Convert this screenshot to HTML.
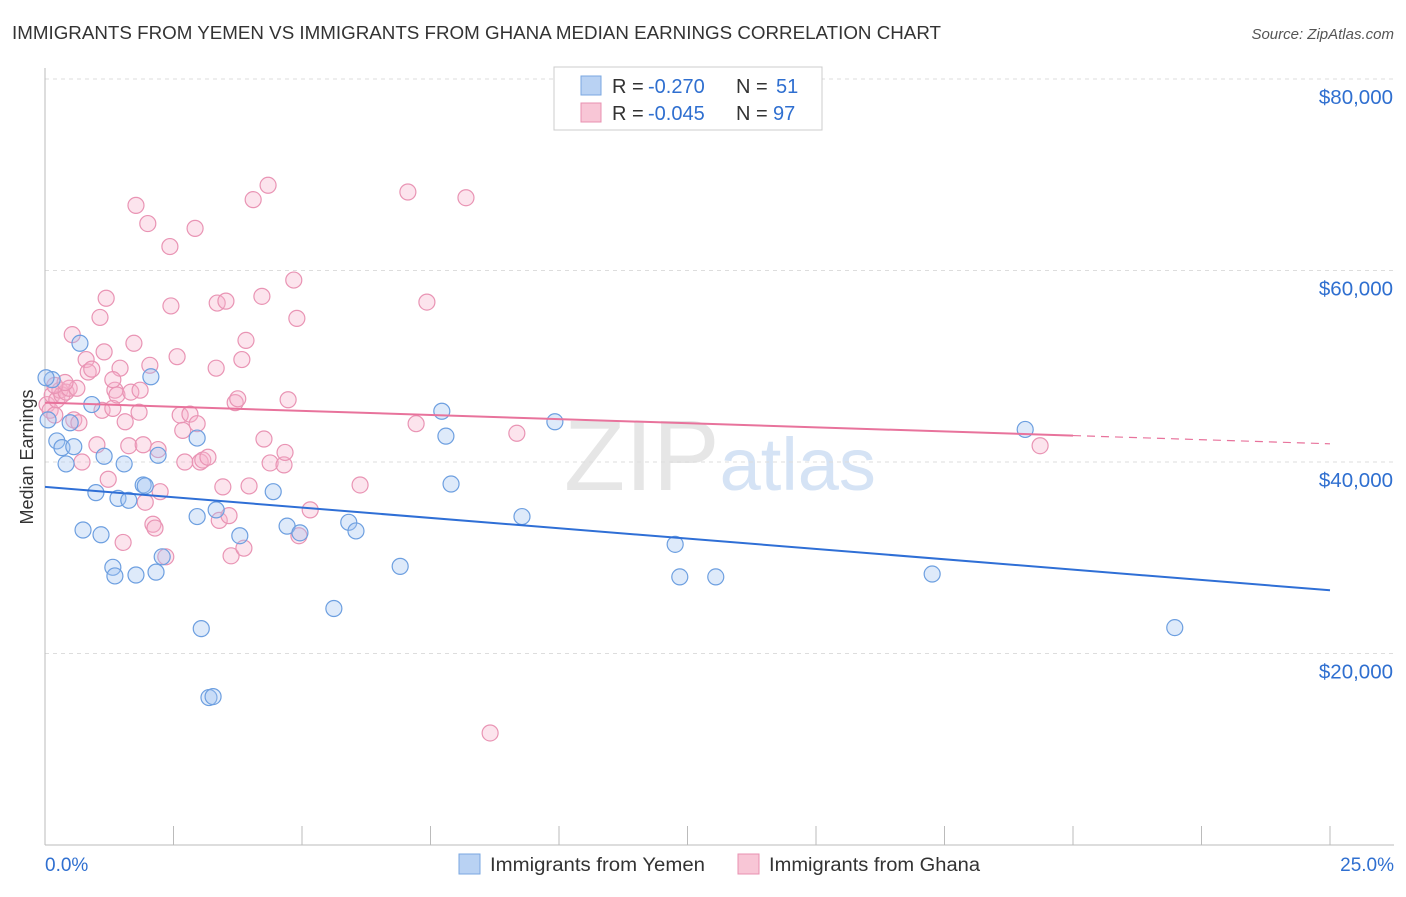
<!DOCTYPE html>
<html><head><meta charset="utf-8">
<style>
body{margin:0;background:#fff;font-family:"Liberation Sans",sans-serif;}
svg text{font-family:"Liberation Sans",sans-serif;}
</style></head>
<body>
<svg id="chart" width="1406" height="892" viewBox="0 0 1406 892" xmlns="http://www.w3.org/2000/svg">
<text x="12" y="39" font-size="18" fill="#333" textLength="929" lengthAdjust="spacingAndGlyphs">IMMIGRANTS FROM YEMEN VS IMMIGRANTS FROM GHANA MEDIAN EARNINGS CORRELATION CHART</text>
<text x="1394" y="39" font-size="15" fill="#555" text-anchor="end" font-style="italic">Source: ZipAtlas.com</text>
<text x="720" y="490" font-size="100" fill="#e6e6e6" text-anchor="middle" font-family="Liberation Serif">ZIP<tspan fill="#d5e3f5" font-family="Liberation Sans" font-size="74">atlas</tspan></text>
<text x="33" y="457" font-size="18" fill="#333" text-anchor="middle" transform="rotate(-90 33 457)">Median Earnings</text>
<g id="grid"></g>
<g id="axes"></g>
<g id="marks"></g>
<g>
<rect x="554" y="67" width="268" height="63" fill="#fff" stroke="#ccc"/>
<rect x="581" y="76" width="20" height="19" fill="#b9d2f3" stroke="#7aa7e0"/>
<text x="612" y="93" font-size="20" fill="#333">R =</text>
<text x="648" y="93" font-size="20" fill="#2f6fd0">-0.270</text>
<text x="736" y="93" font-size="20" fill="#333">N =</text>
<text x="776" y="93" font-size="20" fill="#2f6fd0">51</text>
<rect x="581" y="103" width="20" height="19" fill="#f8c6d6" stroke="#e890b0"/>
<text x="612" y="120" font-size="20" fill="#333">R =</text>
<text x="648" y="120" font-size="20" fill="#2f6fd0">-0.045</text>
<text x="736" y="120" font-size="20" fill="#333">N =</text>
<text x="773" y="120" font-size="20" fill="#2f6fd0">97</text>
</g>
<g>
<rect x="459" y="854" width="21" height="20" fill="#b9d2f3" stroke="#7aa7e0"/>
<text x="490" y="871" font-size="19" fill="#333" textLength="215" lengthAdjust="spacingAndGlyphs">Immigrants from Yemen</text>
<rect x="738" y="854" width="21" height="20" fill="#f8c6d6" stroke="#e890b0"/>
<text x="769" y="871" font-size="19" fill="#333" textLength="211" lengthAdjust="spacingAndGlyphs">Immigrants from Ghana</text>
</g>
</svg>
<script>
const yTicks=[20000,40000,60000,80000];
const yTickLabels=["$20,000","$40,000","$60,000","$80,000"];
const xTicks=[0,2.5,5,7.5,10,12.5,15,17.5,20,22.5,25];
const xEndLabels=["0.0%","25.0%"];
const yemenX=[0.14,0.23,0.33,0.41,0.49,0.56,0.68,0.74,0.91,0.99,1.09,1.15,1.32,1.36,1.42,1.54,1.63,1.77,1.91,1.95,2.06,2.16,2.20,2.28,2.96,2.96,3.04,3.19,3.27,3.33,3.79,4.44,4.71,4.96,5.62,5.91,6.05,6.91,7.72,7.80,7.90,9.28,9.92,12.26,12.35,13.05,17.26,19.07,21.98,0.02,0.06];
const yemenY=[48.6,42.2,41.5,39.8,44.1,41.6,52.4,32.9,46.0,36.8,32.4,40.6,29.0,28.1,36.2,39.8,36.0,28.2,37.6,37.5,48.9,28.5,40.7,30.1,34.3,42.5,22.6,15.4,15.5,35.0,32.3,36.9,33.3,32.6,24.7,33.7,32.8,29.1,45.3,42.7,37.7,34.3,44.2,31.4,28.0,28.0,28.3,43.4,22.7,48.8,44.4];
const ghanaX=[0.04,0.10,0.14,0.19,0.23,0.29,0.33,0.41,0.47,0.53,0.56,0.62,0.66,0.72,0.80,0.84,0.91,1.01,1.07,1.11,1.15,1.19,1.23,1.32,1.36,1.40,1.46,1.52,1.56,1.63,1.67,1.73,1.77,1.83,1.91,1.95,2.00,2.04,2.10,2.14,2.20,2.24,2.35,2.43,2.45,2.57,2.63,2.68,2.72,2.82,2.92,2.96,3.02,3.07,3.17,3.33,3.35,3.39,3.46,3.52,3.58,3.62,3.70,3.75,3.83,3.87,3.91,3.97,4.05,4.22,4.26,4.34,4.38,4.65,4.67,4.73,4.84,4.90,4.94,5.16,6.13,7.06,7.22,7.43,8.19,8.66,9.18,19.36,0.19,0.39,1.85,1.32];
const ghanaY=[46.0,45.4,47.0,44.9,46.5,47.5,47.0,47.3,47.7,53.3,44.4,47.7,44.1,40.0,50.7,49.4,49.7,41.8,55.1,45.4,51.5,57.1,38.2,45.6,47.5,47.0,49.8,31.6,44.2,41.7,47.3,52.4,66.8,45.2,41.8,35.8,64.9,50.1,33.5,33.1,41.3,36.9,30.1,62.5,56.3,51.0,44.9,43.3,40.0,45.0,64.4,44.0,40.0,40.2,40.5,49.8,56.6,33.9,37.4,56.8,34.4,30.2,46.2,46.6,50.7,31.0,52.7,37.5,67.4,57.3,42.4,68.9,39.9,39.7,41.0,46.5,59.0,55.0,32.3,35.0,37.6,68.2,44.0,56.7,67.6,11.7,43.0,41.7,48.0,48.3,47.5,48.6];
const yemenTrend=[37.4,26.6];
const ghanaTrend=[46.2,41.9];
const ghanaSolidEnd=20;

const X0=45,X1=1330,Y0=845,YPER=191.5/20000;
const xs=v=>X0+(v/25)*(X1-X0);
const ys=v=>Y0-v*YPER;
const NS="http://www.w3.org/2000/svg";
function mk(tag,attrs,parent){const e=document.createElementNS(NS,tag);for(const k in attrs)e.setAttribute(k,attrs[k]);parent.appendChild(e);return e;}
const grid=document.getElementById('grid'),axes=document.getElementById('axes'),marks=document.getElementById('marks');
yTicks.forEach((t,i)=>{
 const g=mk('line',{x1:X0,x2:1394,y1:ys(t),y2:ys(t),stroke:'#ddd','stroke-dasharray':'4,4'},grid);
 
 
 const l=mk('text',{x:1393,y:ys(t)+25,'font-size':20.5,fill:'#2f6fd0','text-anchor':'end'},axes);
 l.textContent=yTickLabels[i];
 
 
});
const tg=mk('line',{x1:X0,x2:1394,y1:79,y2:79,stroke:'#ddd','stroke-dasharray':'4,4'},grid);


const ya=mk('line',{x1:X0,x2:X0,y1:68,y2:Y0,stroke:'#bbb'},axes);


const xa=mk('line',{x1:X0,x2:1394,y1:Y0,y2:Y0,stroke:'#bbb'},axes);


xTicks.forEach(t=>{
 const k=mk('line',{x1:xs(t),x2:xs(t),y1:826,y2:Y0,stroke:'#bbb'},axes);
 
 
});
const xl0=mk('text',{x:45,y:871,'font-size':19,fill:'#2f6fd0'},axes);xl0.textContent=xEndLabels[0];


const xl1=mk('text',{x:1394,y:871,'font-size':19,fill:'#2f6fd0','text-anchor':'end'},axes);xl1.textContent=xEndLabels[1];


function dots(X,Y,fill,stroke,name){
 X.forEach((x,i)=>{
  const c=mk('circle',{cx:xs(x),cy:ys(Y[i]*1000),r:8,fill:fill,stroke:stroke,'stroke-width':1.2},marks);
  
  
 });
}
dots(ghanaX,ghanaY,'rgba(246,178,204,0.35)','#e994b4','ghana-point');
dots(yemenX,yemenY,'rgba(160,196,240,0.35)','#6d9fe0','yemen-point');
const yl=mk('line',{x1:xs(0),x2:xs(25),y1:ys(yemenTrend[0]*1000),y2:ys(yemenTrend[1]*1000),stroke:'#2f6fd6','stroke-width':2},marks);


const gm=ghanaTrend[0]+(ghanaTrend[1]-ghanaTrend[0])*ghanaSolidEnd/25;
const gl=mk('line',{x1:xs(0),x2:xs(ghanaSolidEnd),y1:ys(ghanaTrend[0]*1000),y2:ys(gm*1000),stroke:'#e8739c','stroke-width':2},marks);


const gd=mk('line',{x1:xs(ghanaSolidEnd),x2:xs(25),y1:ys(gm*1000),y2:ys(ghanaTrend[1]*1000),stroke:'#e8739c','stroke-width':1.2,'stroke-dasharray':'8,6'},marks);


</script>
</body></html>
